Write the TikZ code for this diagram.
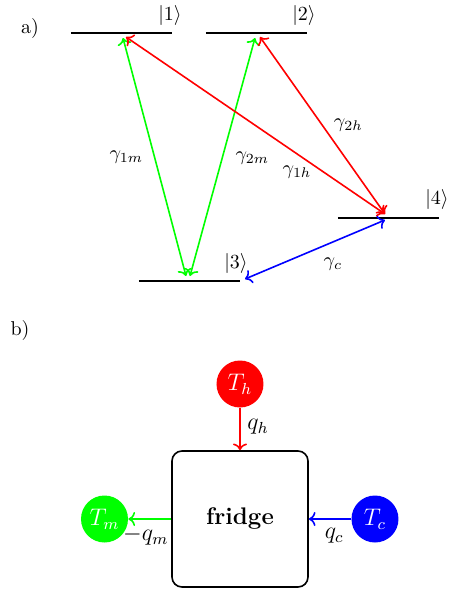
\documentclass[tikz,border=0pt]{standalone}
\usepackage{amsmath,amssymb}
\usepackage{xcolor}
\usepackage{tikz}
\usetikzlibrary{arrows.meta,positioning}

\begin{document}
\begin{tikzpicture}[x=0.5pt,y=-0.5pt,
  arr/.style={->,thick},
  lbl/.style={text=black},
  level/.style={thick},
  bath/.style={circle,minimum size=23.5pt,inner sep=0pt,text=white,font=\large}]
  \useasboundingbox (0,0) rectangle (456,591);
  % a) levels
  \node at (30,28) {a)};
  \draw[level] (71,33)--(172,33);
  \draw[level] (206,33)--(307,33);
  \draw[level] (139,281)--(240,281);
  \draw[level] (338,218)--(439,218);
  \node (k1) at (170,15) {$|1\rangle$};
  \node (k2) at (304,15) {$|2\rangle$};
  \node (k3) at (236,263) {$|3\rangle$};
  \node (k4) at (437,199) {$|4\rangle$};
  % arrow ends on the levels
  \coordinate (e1g) at (123,38);
  \coordinate (e1r) at (126,37);
  \coordinate (e2g) at (255,38);
  \coordinate (e2r) at (260,37);
  \coordinate (e3a) at (186,276);
  \coordinate (e3b) at (190,276);
  \coordinate (e3c) at (245,279);
  \coordinate (e4a) at (385,214);
  \coordinate (e4b) at (385,220);
  % transitions
  \draw[arr,<->,green] (e1g)--(e3a) node[lbl,pos=0.5,left=2pt] {$\gamma_{1m}$};
  \draw[arr,<->,green] (e2g)--(e3b) node[lbl,pos=0.505,right=3pt] {$\gamma_{2m}$};
  \draw[arr,<->,red] (e1r)--(e4a);
  \node at (297,172) {$\gamma_{1h}$};
  \draw[arr,<->,red] (e2r)--(e4a) node[lbl,pos=0.5,right=2pt] {$\gamma_{2h}$};
  \draw[arr,<->,blue] (e3c)--(e4b);
  \node at (333,264) {$\gamma_c$};
  % b) fridge
  \node at (20,330) {b)};
  \node[draw,thick,rounded corners=5pt,minimum size=68pt,font=\large\bfseries] (fr) at (240,519) {fridge};
  \node[bath,fill=red] (Th) at (240,384) {$T_h$};
  \node[bath,fill=green] (Tm) at (104.5,519) {$T_m$};
  \node[bath,fill=blue] (Tc) at (375,519) {$T_c$};
  \draw[arr,red] (Th)--(fr) node[lbl,pos=0.45,right,font=\large] {$q_h$};
  \draw[arr,green] (fr)--(Tm) node[lbl,pos=0.5,below=0pt,xshift=-2pt,inner xsep=1pt,font=\large] {$-q_m$};
  \draw[arr,blue] (Tc)--(fr) node[lbl,pos=0.4,below=1pt,font=\large] {$q_c$};
\end{tikzpicture}
\end{document}
